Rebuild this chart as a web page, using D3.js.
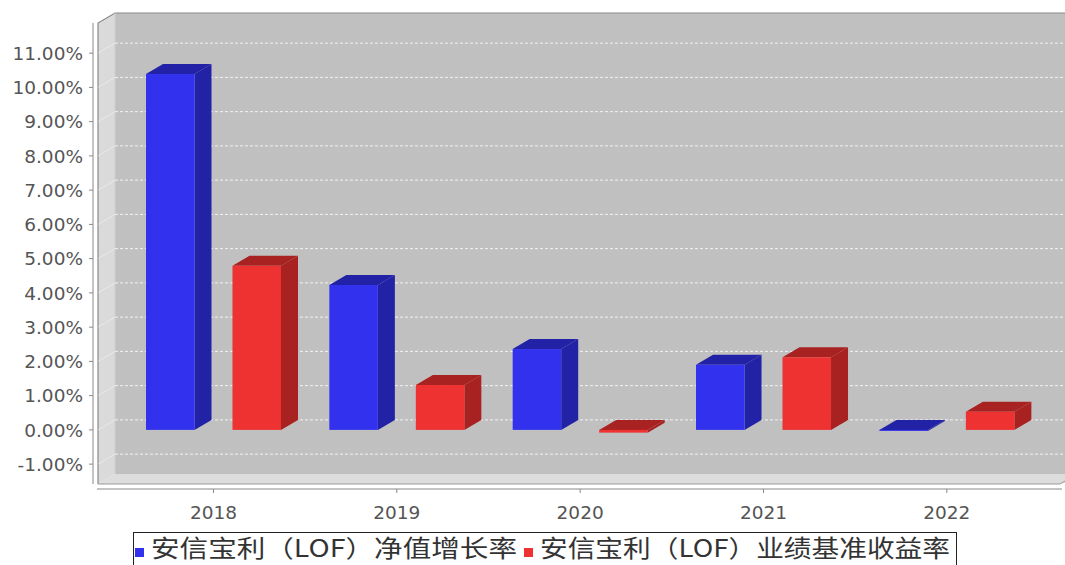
<!DOCTYPE html>
<html><head><meta charset="utf-8">
<script src="https://cdn.jsdelivr.net/npm/d3@7"></script>
<style>body{margin:0;background:#fff;overflow:hidden}</style>
</head><body><svg id="c" width="1065" height="565"></svg>
<script>
const years = ["2018", "2019", "2020", "2021", "2022"];
const seriesNames = ["安信宝利（LOF）净值增长率", "安信宝利（LOF）业绩基准收益率"];
const navGrowth = [10.39, 4.23, 2.36, 1.90, -0.03];
const benchmark = [4.79, 1.31, -0.08, 2.12, 0.53];
const yTickValues = [-1, 0, 1, 2, 3, 4, 5, 6, 7, 8, 9, 10, 11];
const frontColors = ["#3131ee", "#ee3131"];
const sideColors = ["#2222a6", "#a82222"];

(function () {
const svg = d3.select("#c");
const DX = 17, DY = 10;
const pLeft = 98, pRight = 1060, pTop = 23, pBottom = 484;

const y = d3.scaleLinear().domain([-1.58, 11.88]).range([pBottom, pTop]);
const x0 = d3.scaleBand().domain(years).range([121.8, 1038.5]).padding(0);
const x1 = d3.scaleBand().domain(seriesNames).range([24.2, 159.2]).paddingInner(0.439).paddingOuter(0);

// walls
const g = svg.append("g");
g.append("rect").attr("x", pLeft + DX).attr("y", pTop - DY).attr("width", pRight - pLeft + 20).attr("height", pBottom - pTop)
  .attr("fill", "#c0c0c0");
g.append("polygon").attr("points", [[pLeft, pTop], [pLeft + DX, pTop - DY], [pLeft + DX, pBottom - DY], [pLeft, pBottom]].join(" "))
  .attr("fill", "#dadada");
g.append("polygon").attr("points", [[pLeft, pBottom], [pLeft + DX, pBottom - DY], [pRight + DX + 20, pBottom - DY], [pRight, pBottom]].join(" "))
  .attr("fill", "#dddddd");
g.append("path").attr("d", `M${pLeft},${pBottom}L${pLeft},${pTop}L${pLeft + DX},${pTop - DY}L${1065},${pTop - DY}`)
  .attr("fill", "none").attr("stroke", "#8a8a8a").attr("stroke-width", 1.2);
g.append("path").attr("d", `M${pLeft},${pBottom}L${pRight},${pBottom}L${pRight + DX},${pBottom - DY}`)
  .attr("fill", "none").attr("stroke", "#9a9a9a").attr("stroke-width", 1);
g.append("line").attr("x1", pLeft + DX).attr("x2", pLeft + DX).attr("y1", pTop - DY).attr("y2", pBottom - DY)
  .attr("stroke", "#cfcfcf").attr("stroke-width", 1);

yTickValues.forEach(v => {
  g.append("line").attr("x1", pLeft + DX).attr("x2", 1065).attr("y1", y(v) - DY).attr("y2", y(v) - DY)
    .attr("stroke", "#f2f2f2").attr("stroke-width", 1).attr("stroke-dasharray", "3,2");
  g.append("line").attr("x1", pLeft).attr("x2", pLeft + DX).attr("y1", y(v)).attr("y2", y(v) - DY)
    .attr("stroke", "#ffffff").attr("stroke-opacity", 0.4).attr("stroke-width", 1);
});

// bars
const allSeries = [navGrowth, benchmark];
years.forEach((yr, i) => {
  seriesNames.forEach((s, k) => {
    const v = allSeries[k][i];
    const bx = x0(yr) + x1(s), w = x1.bandwidth();
    const yt = y(Math.max(v, 0)), yb = y(Math.min(v, 0));
    const bg = g.append("g");
    bg.append("polygon").attr("points", [[bx + w, yt], [bx + w + DX, yt - DY], [bx + w + DX, yb - DY], [bx + w, yb]].join(" "))
      .attr("fill", sideColors[k]);
    bg.append("polygon").attr("points", [[bx, yt], [bx + DX, yt - DY], [bx + w + DX, yt - DY], [bx + w, yt]].join(" "))
      .attr("fill", sideColors[k]);
    bg.append("rect").attr("x", bx).attr("y", yt).attr("width", w).attr("height", Math.max(yb - yt, 0.8))
      .attr("fill", frontColors[k]);
  });
});

// y axis
const ya = svg.append("g");
ya.append("line").attr("x1", 93).attr("x2", 93).attr("y1", pTop).attr("y2", pBottom).attr("stroke", "#888").attr("stroke-width", 1);
yTickValues.forEach(v => {
  ya.append("line").attr("x1", 89).attr("x2", 93).attr("y1", y(v)).attr("y2", y(v)).attr("stroke", "#888");
  ya.append("text").attr("x", 83).attr("y", y(v)).attr("dy", "0.36em").attr("text-anchor", "end")
    .attr("font-family", "DejaVu Sans").attr("font-size", 18.5).attr("fill", "#555")
    .text(v.toFixed(2) + "%");
});

// x axis
const xa = svg.append("g");
xa.append("line").attr("x1", 97).attr("x2", 1062).attr("y1", 489).attr("y2", 489).attr("stroke", "#888");
years.forEach(yr => {
  const cx = x0(yr) + x0.bandwidth() / 2;
  xa.append("line").attr("x1", cx).attr("x2", cx).attr("y1", 489).attr("y2", 493).attr("stroke", "#888");
  xa.append("text").attr("x", cx).attr("y", 512).attr("dy", "0.36em").attr("text-anchor", "middle")
    .attr("font-family", "DejaVu Sans").attr("font-size", 18.5).attr("fill", "#555").text(yr);
});

// legend
const lg = svg.append("g");
lg.append("rect").attr("x", 133.5).attr("y", 532.5).attr("width", 823).attr("height", 40)
  .attr("fill", "#fff").attr("stroke", "#222").attr("stroke-width", 1);
const legendX = [[135, 151, 366], [524, 540, 410]];
seriesNames.forEach((s, k) => {
  lg.append("rect").attr("x", legendX[k][0]).attr("y", 548).attr("width", 9).attr("height", 9).attr("fill", frontColors[k]);
  lg.append("text").attr("x", legendX[k][1]).attr("y", 557)
    .attr("font-family", "Noto Sans CJK SC").attr("font-size", 24).attr("fill", "#333")
    .attr("textLength", legendX[k][2]).attr("lengthAdjust", "spacingAndGlyphs")
    .text(s);
});
})();
</script></body></html>
